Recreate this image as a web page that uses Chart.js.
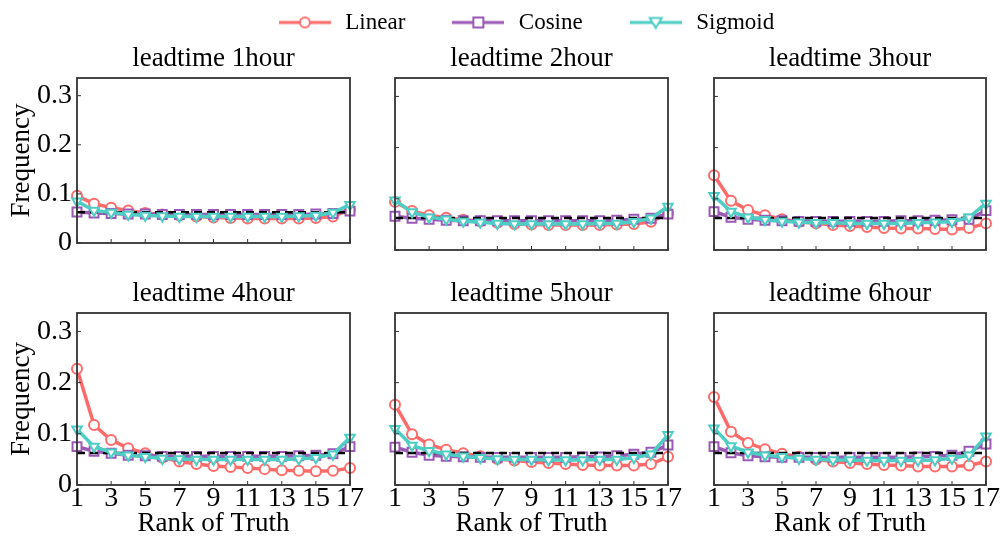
<!DOCTYPE html>
<html>
<head>
<meta charset="utf-8">
<script src="https://cdn.jsdelivr.net/npm/chart.js@4.4.1/dist/chart.umd.min.js"></script>
<style>
  html, body { margin: 0; background: #fff; }
  #wrap { position: relative; width: 1000px; height: 538px; overflow: hidden; background: #fff; }
  #wrap canvas { position: absolute; }
</style>
</head>
<body>
<div id="wrap"></div>
<script>
  const ranks = [1, 2, 3, 4, 5, 6, 7, 8, 9, 10, 11, 12, 13, 14, 15, 16, 17];
  const leadtimes = ['leadtime 1hour', 'leadtime 2hour', 'leadtime 3hour',
                     'leadtime 4hour', 'leadtime 5hour', 'leadtime 6hour'];
  const seriesNames = ['Linear', 'Cosine', 'Sigmoid'];
  const uniformFreq = 1 / 16;

  // one row per lead time, 17 ranks each
  const linearFreq = [
    [0.096, 0.080, 0.072, 0.066, 0.061, 0.058, 0.056, 0.054, 0.052, 0.051, 0.050, 0.050, 0.050, 0.050, 0.051, 0.054, 0.068],
    [0.094, 0.076, 0.068, 0.063, 0.059, 0.056, 0.053, 0.051, 0.050, 0.049, 0.049, 0.049, 0.049, 0.050, 0.051, 0.055, 0.072],
    [0.146, 0.096, 0.078, 0.068, 0.060, 0.055, 0.052, 0.049, 0.047, 0.045, 0.043, 0.042, 0.042, 0.041, 0.040, 0.043, 0.052],
    [0.227, 0.117, 0.088, 0.072, 0.062, 0.053, 0.046, 0.041, 0.037, 0.035, 0.033, 0.031, 0.029, 0.028, 0.027, 0.028, 0.033],
    [0.157, 0.099, 0.079, 0.069, 0.062, 0.056, 0.051, 0.048, 0.045, 0.043, 0.041, 0.039, 0.038, 0.038, 0.038, 0.041, 0.055],
    [0.172, 0.104, 0.082, 0.070, 0.061, 0.055, 0.050, 0.046, 0.043, 0.041, 0.039, 0.038, 0.036, 0.036, 0.036, 0.038, 0.046]
  ];
  const cosineFreq = [
    [0.063, 0.061, 0.060, 0.059, 0.059, 0.058, 0.058, 0.058, 0.058, 0.058, 0.058, 0.058, 0.058, 0.058, 0.059, 0.060, 0.065],
    [0.066, 0.062, 0.060, 0.058, 0.057, 0.057, 0.057, 0.057, 0.057, 0.057, 0.057, 0.057, 0.057, 0.058, 0.060, 0.062, 0.070],
    [0.075, 0.064, 0.060, 0.058, 0.057, 0.056, 0.056, 0.056, 0.056, 0.056, 0.056, 0.057, 0.057, 0.058, 0.059, 0.060, 0.077],
    [0.075, 0.066, 0.062, 0.058, 0.057, 0.056, 0.056, 0.056, 0.056, 0.056, 0.056, 0.056, 0.056, 0.057, 0.058, 0.061, 0.075],
    [0.074, 0.064, 0.058, 0.056, 0.055, 0.054, 0.054, 0.054, 0.054, 0.054, 0.054, 0.055, 0.055, 0.057, 0.060, 0.064, 0.078],
    [0.075, 0.063, 0.057, 0.055, 0.054, 0.054, 0.054, 0.054, 0.054, 0.054, 0.054, 0.054, 0.055, 0.056, 0.058, 0.066, 0.080]
  ];
  const sigmoidFreq = [
    [0.085, 0.066, 0.062, 0.058, 0.056, 0.055, 0.054, 0.054, 0.054, 0.054, 0.054, 0.054, 0.054, 0.055, 0.056, 0.062, 0.078],
    [0.097, 0.074, 0.064, 0.060, 0.056, 0.054, 0.052, 0.051, 0.051, 0.051, 0.051, 0.051, 0.052, 0.052, 0.055, 0.062, 0.085],
    [0.106, 0.075, 0.064, 0.059, 0.056, 0.054, 0.053, 0.053, 0.052, 0.052, 0.052, 0.052, 0.053, 0.054, 0.055, 0.064, 0.091],
    [0.109, 0.075, 0.064, 0.058, 0.055, 0.052, 0.051, 0.050, 0.050, 0.050, 0.050, 0.050, 0.050, 0.051, 0.053, 0.060, 0.093],
    [0.110, 0.077, 0.067, 0.060, 0.056, 0.053, 0.051, 0.050, 0.050, 0.049, 0.049, 0.049, 0.050, 0.050, 0.053, 0.060, 0.098],
    [0.111, 0.076, 0.064, 0.058, 0.055, 0.052, 0.050, 0.049, 0.049, 0.048, 0.048, 0.048, 0.048, 0.049, 0.052, 0.058, 0.095]
  ];

  const RED = '#FF6B6B', PURPLE = '#9B59B6', TEAL = '#4ECDC4';
  const SERIF = "'Liberation Serif', 'Times New Roman', Times, serif";
  Chart.defaults.font.family = SERIF;
  Chart.defaults.color = '#000';

  const wrap = document.getElementById('wrap');
  const colLeft = [77, 395, 714], colWidth = [273, 273, 272];
  const rowTop = [78, 313], plotH = 172;

  function addCanvas(left, top, w, h) {
    const c = document.createElement('canvas');
    c.width = w; c.height = h;
    c.style.left = left + 'px'; c.style.top = top + 'px';
    c.style.width = w + 'px'; c.style.height = h + 'px';
    wrap.appendChild(c);
    return c;
  }

  function makeDatasets(i) {
    return [
      { label: 'Linear', data: linearFreq[i], borderColor: RED, pointBorderColor: RED,
        pointBackgroundColor: '#fff', pointStyle: 'circle', pointRadius: 5, pointBorderWidth: 2,
        borderWidth: 3.5, tension: 0, order: 3 },
      { label: 'Cosine', data: cosineFreq[i], borderColor: PURPLE, pointBorderColor: PURPLE,
        pointBackgroundColor: '#fff', pointStyle: 'rect', pointRadius: 6.3, pointBorderWidth: 2,
        borderWidth: 3.5, tension: 0, order: 2 },
      { label: 'Sigmoid', data: sigmoidFreq[i], borderColor: TEAL, pointBorderColor: TEAL,
        pointBackgroundColor: '#fff', pointStyle: 'triangle', pointRotation: 180, pointRadius: 5.5,
        pointBorderWidth: 2, borderWidth: 3.5, tension: 0, order: 0 },
      { label: 'uniform', data: ranks.map(() => uniformFreq), borderColor: '#000',
        borderDash: [8, 5], borderWidth: 2.5, pointRadius: 0, order: 1 }
    ];
  }

  // box around the axes plus inward tick marks, like the matplotlib style
  const framePlugin = {
    id: 'frame',
    afterDraw(chart) {
      const { ctx, chartArea: a, scales: { x, y } } = chart;
      ctx.save();
      ctx.strokeStyle = '#333';
      ctx.lineWidth = 1;
      ctx.beginPath();
      x.ticks.forEach((t, k) => {
        if (ranks[t.value] % 2 === 0) return;
        const px = x.getPixelForTick(k);
        ctx.moveTo(px, a.bottom); ctx.lineTo(px, a.bottom - 4);
      });
      y.ticks.forEach((t, k) => {
        const py = y.getPixelForTick(k);
        ctx.moveTo(a.left, py); ctx.lineTo(a.left + 4, py);
      });
      ctx.stroke();
      ctx.lineWidth = 1.8;
      ctx.strokeRect(a.left, a.top, a.right - a.left, a.bottom - a.top);
      ctx.restore();
    }
  };

  function fitTo(chart, box) {
    for (let k = 0; k < 3; k++) {
      const a = chart.chartArea;
      const p = chart.options.layout.padding;
      chart.options.layout.padding = {
        left: p.left + box.left - a.left,
        right: p.right + a.right - box.right,
        top: p.top + box.top - a.top,
        bottom: p.bottom + a.bottom - box.bottom
      };
      chart.update('none');
    }
  }

  for (let i = 0; i < 6; i++) {
    const r = Math.floor(i / 3), c = i % 3;
    const pl = colLeft[c], pw = colWidth[c], pt = rowTop[r];
    const left = c === 0 ? 0 : pl - 30;
    const right = Math.min(1000, pl + pw + 14);
    const top = r === 0 ? 30 : 266;
    const bottom = r === 0 ? 262 : 538;
    const canvas = addCanvas(left, top, right - left, bottom - top);
    const firstCol = c === 0, lastRow = r === 1;

    const chart = new Chart(canvas, {
      type: 'line',
      data: { labels: ranks, datasets: makeDatasets(i) },
      options: {
        responsive: false,
        animation: false,
        events: [],
        layout: { autoPadding: false, padding: { left: 0, right: 0, top: 0, bottom: 0 } },
        plugins: {
          legend: { display: false },
          tooltip: { enabled: false },
          title: {
            display: true, text: leadtimes[i], fullSize: false,
            font: { size: 27, weight: 'normal', lineHeight: 1 },
            padding: { top: 0, bottom: 5.5 }
          }
        },
        scales: {
          x: {
            grid: { display: false, drawTicks: false },
            border: { display: false },
            ticks: {
              display: lastRow, autoSkip: false, maxRotation: 0, padding: 0,
              font: { size: 28, lineHeight: 1 },
              callback: (v, k) => (ranks[k] % 2 === 1 ? String(ranks[k]) : '')
            },
            title: { display: lastRow, text: 'Rank of Truth',
                     font: { size: 27, lineHeight: 1 }, padding: { top: 0, bottom: 0.5 } },
            afterFit: s => { s.height = lastRow ? 53 : 0; }
          },
          y: {
            min: 0, max: 0.336,
            grid: { display: false, drawTicks: false },
            border: { display: false },
            ticks: {
              display: firstCol, stepSize: 0.1, includeBounds: false, padding: 5,
              font: { size: 28, lineHeight: 1 },
              callback: v => (v === 0 ? '0' : v.toFixed(1))
            },
            title: { display: firstCol, text: 'Frequency',
                     font: { size: 27, lineHeight: 1 }, padding: { top: 8.5, bottom: 0 } },
            afterFit: s => { s.width = firstCol ? 77 : 0; }
          }
        }
      },
      plugins: [framePlugin]
    });
    fitTo(chart, { left: pl - left, right: pl + pw - left, top: pt - top, bottom: pt + plotH - top });
  }

  // legend glyphs: line with the open marker in the middle
  function legendIcon(color, shape) {
    const cv = document.createElement('canvas');
    cv.width = 52; cv.height = 16;
    const g = cv.getContext('2d');
    g.strokeStyle = color; g.lineWidth = 3;
    g.beginPath(); g.moveTo(0, 8); g.lineTo(52, 8); g.stroke();
    g.fillStyle = '#fff'; g.lineWidth = 2;
    g.beginPath();
    if (shape === 'circle') g.arc(26, 8, 5, 0, 2 * Math.PI);
    else if (shape === 'rect') g.rect(21, 3, 10, 10);
    else { g.moveTo(20, 3.5); g.lineTo(32, 3.5); g.lineTo(26, 13.5); g.closePath(); }
    g.fill(); g.stroke();
    return cv;
  }
  const legendIcons = [legendIcon(RED, 'circle'), legendIcon(PURPLE, 'rect'), legendIcon(TEAL, 'triangle')];

  const legendCanvas = addCanvas(0, 0, 1000, 240);
  const legendChart = new Chart(legendCanvas, {
    type: 'line',
    data: {
      labels: ranks,
      datasets: seriesNames.map((name, k) => ({ label: name, data: [], borderColor: [RED, PURPLE, TEAL][k] }))
    },
    options: {
      responsive: false,
      animation: false,
      events: [],
      scales: { x: { display: false }, y: { display: false } },
      plugins: {
        tooltip: { enabled: false },
        legend: {
          display: true,
          labels: {
            usePointStyle: true, pointStyleWidth: 58, padding: 44, color: '#000',
            font: { size: 23 },
            generateLabels: ch => ch.data.datasets.map((ds, k) => ({
              text: ds.label, pointStyle: legendIcons[k], fillStyle: 'rgba(0,0,0,0)',
              strokeStyle: 'rgba(0,0,0,0)', lineWidth: 0, hidden: false, datasetIndex: k, fontColor: '#000'
            }))
          }
        }
      }
    }
  });
  const hb = legendChart.legend.legendHitBoxes[0];
  legendCanvas.style.left = (276 - hb.left) + 'px';
  legendCanvas.style.top = (22 - (hb.top + hb.height / 2)) + 'px';
</script>
</body>
</html>
